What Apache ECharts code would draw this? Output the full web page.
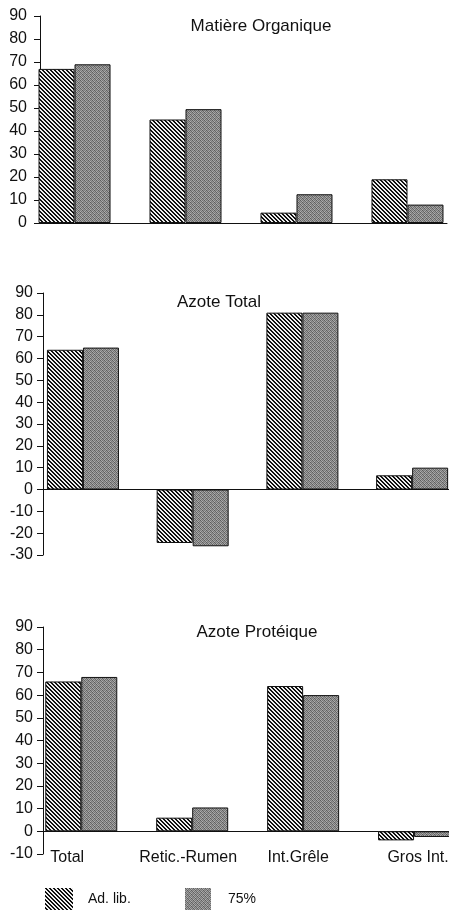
<!DOCTYPE html>
<html>
<head>
<meta charset="utf-8">
<script src="https://cdn.jsdelivr.net/npm/echarts@6/dist/echarts.min.js"></script>
<style>
html,body{margin:0;padding:0;background:#fff;}
#chart{width:449px;height:910px;}
</style>
</head>
<body>
<div id="chart"></div>
<script>
// ---- data ----
const categories = ['Total', 'Retic.-Rumen', 'Int.Grêle', 'Gros Int.'];
const seriesNames = ['Ad. lib.', '75%'];
const titles = ['Matière Organique', 'Azote Total', 'Azote Protéique'];

const moAdLib = [67, 45, 4.5, 19];
const mo75 = [69, 49.5, 12.5, 8];

const ntAdLib = [64, -24.5, 81, 6.5];
const nt75 = [65, -26, 81, 10];

const npAdLib = [66, 6, 64, -4];
const np75 = [68, 10.5, 60, -2.5];

const yTicks1 = [0, 90];
const yTicks2 = [-30, 90];
const yTicks3 = [-10, 90];

// ---- patterns ----
function hatchCanvas() {
  const c = document.createElement('canvas');
  c.width = 4; c.height = 4;
  const ctx = c.getContext('2d');
  ctx.fillStyle = '#eeeeee';
  ctx.fillRect(0, 0, 4, 4);
  ctx.fillStyle = '#101010';
  for (let y = 0; y < 4; y++) {
    for (let x = 0; x < 4; x++) {
      if (((x - y) % 4 + 4) % 4 < 2) ctx.fillRect(x, y, 1, 1);
    }
  }
  return c;
}
function grayCanvas() {
  const tile = [
    [0x5e, 0xa8, 0x74, 0x9c],
    [0x96, 0x6a, 0xb0, 0x78],
    [0x7c, 0xa4, 0x5c, 0x94],
    [0xae, 0x70, 0x9e, 0x66]
  ];
  const c = document.createElement('canvas');
  c.width = 4; c.height = 4;
  const ctx = c.getContext('2d');
  for (let y = 0; y < 4; y++) {
    for (let x = 0; x < 4; x++) {
      const v = tile[y][x];
      ctx.fillStyle = 'rgb(' + v + ',' + v + ',' + v + ')';
      ctx.fillRect(x, y, 1, 1);
    }
  }
  return c;
}
const hatchFill = { image: hatchCanvas(), repeat: 'repeat' };
const grayFill = { image: grayCanvas(), repeat: 'repeat' };

const FONT = "'Liberation Sans', Arial, Helvetica, sans-serif";
const INK = '#111';

// per-chart layout
const layouts = [
  { grid: { left: 40, top: 16, width: 407, height: 207 }, xmin: -0.311, xmax: 3.356, y: yTicks1, labelMargin: 13 },
  { grid: { left: 43, top: 293, width: 406, height: 262 }, xmin: -0.364, xmax: 3.336, y: yTicks2, labelMargin: 10 },
  { grid: { left: 43, top: 627, width: 406, height: 227 }, xmin: -0.345, xmax: 3.315, y: yTicks3, labelMargin: 10 }
];
const titleTops = [18, 294, 624];
const titleCenters = [261, 219, 257];
const dataSets = [[moAdLib, mo75], [ntAdLib, nt75], [npAdLib, np75]];

const labelShift = [-14, -4, -5, 4];
const rich = {};
categories.forEach((c, i) => {
  const s = labelShift[i];
  rich['c' + i] = {
    fontSize: 16, fontFamily: FONT, color: INK,
    padding: s < 0 ? [0, -2 * s, 0, 0] : [0, 0, 0, 2 * s]
  };
});

const grids = [], xAxes = [], yAxes = [], series = [], titleOpts = [];
layouts.forEach((L, k) => {
  grids.push(Object.assign({ outerBoundsMode: 'none', containLabel: false }, L.grid));
  xAxes.push({
    type: 'value', gridIndex: k, min: L.xmin, max: L.xmax,
    axisLine: { show: true, onZero: true, lineStyle: { color: INK, width: 1 } },
    axisTick: { show: false },
    splitLine: { show: false },
    axisLabel: k === 2 ? {
      show: true,
      customValues: categories.map((_, i) => i),
      formatter: v => '{c' + v + '|' + categories[v] + '}',
      rich: rich,
      margin: -4,
      hideOverlap: false
    } : { show: false }
  });
  yAxes.push({
    type: 'value', gridIndex: k, min: L.y[0], max: L.y[1], interval: 10,
    axisLine: { show: true, onZero: false, lineStyle: { color: INK, width: 1 } },
    axisTick: { show: true, length: 6, lineStyle: { color: INK } },
    splitLine: { show: false },
    axisLabel: { fontSize: 16, fontFamily: FONT, color: INK, margin: L.labelMargin }
  });
  const [a, b] = dataSets[k];
  series.push({
    type: 'bar', name: seriesNames[0], xAxisIndex: k, yAxisIndex: k,
    data: a.map((v, i) => [i, v]),
    barWidth: 36, barGap: '0%',
    itemStyle: { color: hatchFill, borderColor: INK, borderWidth: 1 },
    emphasis: { disabled: true }, animation: false
  });
  series.push({
    type: 'bar', name: seriesNames[1], xAxisIndex: k, yAxisIndex: k,
    data: b.map((v, i) => [i, v]),
    barWidth: 36, barGap: '0%',
    itemStyle: { color: grayFill, borderColor: INK, borderWidth: 1 },
    emphasis: { disabled: true }, animation: false
  });
  titleOpts.push({
    text: titles[k], left: titleCenters[k], top: titleTops[k], textAlign: 'center', padding: 0,
    textStyle: { fontSize: 17, fontWeight: 'normal', fontFamily: FONT, color: INK }
  });
});

const legendBase = {
  orient: 'horizontal', top: 888, itemHeight: 22, icon: 'rect', selectedMode: false, padding: 0,
  itemStyle: { borderWidth: 0 }
};
const option = {
  backgroundColor: '#fff',
  animation: false,
  title: titleOpts,
  legend: [
    Object.assign({}, legendBase, { data: [seriesNames[0]], left: 45, itemWidth: 28,
      textStyle: { fontSize: 14, fontFamily: FONT, color: INK, padding: [0, 0, 0, 10] } }),
    Object.assign({}, legendBase, { data: [seriesNames[1]], left: 185, itemWidth: 26,
      textStyle: { fontSize: 14, fontFamily: FONT, color: INK, padding: [0, 0, 0, 12] } })
  ],
  grid: grids,
  xAxis: xAxes,
  yAxis: yAxes,
  series: series
};
const chart = echarts.init(document.getElementById('chart'), null, { renderer: 'canvas' });
chart.setOption(option);
</script>
</body>
</html>
